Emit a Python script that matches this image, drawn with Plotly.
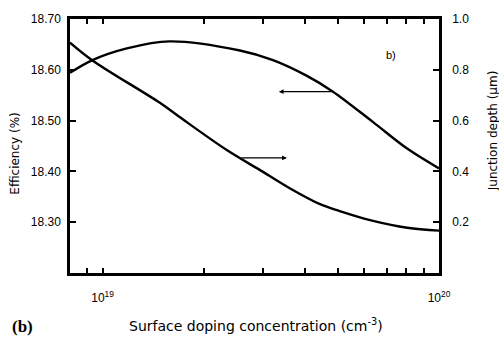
import plotly.graph_objects as go
import math

# Efficiency (%) vs surface doping concentration (cm^-3), left axis
eff_doping = [8.0e18, 9.33e18, 1.18e19, 1.58e19, 2.56e19, 3.21e19, 4.05e19, 4.84e19, 6.37e19, 8.04e19, 1.0e20]
eff_values = [18.594, 18.619, 18.642, 18.656, 18.638, 18.619, 18.588, 18.557, 18.497, 18.445, 18.406]

# Junction depth (um) vs surface doping concentration, right axis
jd_doping = [8.0e18, 9.33e18, 1.48e19, 1.69e19, 2.34e19, 2.99e19, 3.61e19, 4.43e19, 5.07e19, 6.37e19, 8.04e19, 1.0e20]
jd_values = [0.907, 0.837, 0.67, 0.615, 0.484, 0.399, 0.333, 0.271, 0.244, 0.205, 0.178, 0.167]

x_tickvals = [9e18, 1e19, 2e19, 3e19, 4e19, 5e19, 6e19, 7e19, 8e19, 9e19, 1e20]
x_ticktext = ["", "10<sup>19</sup>", "", "", "", "", "", "", "", "", "10<sup>20</sup>"]
left_ticks = [18.30, 18.40, 18.50, 18.60, 18.70]
left_text = ["18.30", "18.40", "18.50", "18.60", "18.70"]
right_ticks = [0.2, 0.4, 0.6, 0.8, 1.0]
right_text = ["0.2", "0.4", "0.6", "0.8", "1.0"]

FONT = "Liberation Sans"
TFONT = "DejaVu Sans"

fig = go.Figure()
fig.add_trace(go.Scatter(x=eff_doping, y=eff_values, mode="lines",
                         line=dict(color="black", width=2.4, shape="spline", smoothing=1.0),
                         yaxis="y", showlegend=False))
fig.add_trace(go.Scatter(x=jd_doping, y=jd_values, mode="lines",
                         line=dict(color="black", width=2.4, shape="spline", smoothing=1.0),
                         yaxis="y2", showlegend=False))

fig.update_layout(
    width=499, height=337,
    margin=dict(l=70, r=60, t=15, b=64),
    paper_bgcolor="white", plot_bgcolor="white",
    font=dict(family=FONT, size=12, color="black"),
    xaxis=dict(type="log", range=[math.log10(8e18), 20],
               tickvals=x_tickvals, ticktext=x_ticktext,
               ticks="inside", ticklen=5, tickwidth=1.5, tickcolor="black",
               showline=True, linecolor="black", linewidth=2.5, mirror="ticks",
               showgrid=False, zeroline=False, ticklabelstandoff=12,
               tickfont=dict(size=12, family=FONT)),
    yaxis=dict(range=[18.20, 18.70], tickvals=left_ticks, ticktext=left_text,
               ticks="inside", ticklen=6, tickwidth=1.5, tickcolor="black",
               showline=True, linecolor="black", linewidth=2.5,
               showgrid=False, zeroline=False, ticklabelstandoff=4,
               tickfont=dict(size=12, family=FONT)),
    yaxis2=dict(range=[0, 1.0], overlaying="y", side="right",
                tickvals=right_ticks, ticktext=right_text,
                ticks="inside", ticklen=6, tickwidth=1.5, tickcolor="black",
                showline=True, linecolor="black", linewidth=2.5,
                showgrid=False, zeroline=False, ticklabelstandoff=8,
                tickfont=dict(size=12, family=FONT)),
)

annotations = [
    dict(text="Efficiency (%)", xref="paper", yref="paper", x=-0.149, y=0.47,
         textangle=-90, showarrow=False, font=dict(size=12, family=TFONT),
         xanchor="center", yanchor="middle"),
    dict(text="Junction depth (μm)", xref="paper", yref="paper", x=1.145, y=0.56,
         textangle=-90, showarrow=False, font=dict(size=12, family=TFONT),
         xanchor="center", yanchor="middle"),
    dict(text="Surface doping concentration (cm<sup>-3</sup>)", xref="paper", yref="paper",
         x=0.505, y=-0.205, showarrow=False, font=dict(size=14, family=TFONT),
         xanchor="center", yanchor="middle"),
    dict(text="<b>(b)</b>", xref="paper", yref="paper", x=-0.13, y=-0.209,
         showarrow=False, font=dict(size=17, family="Liberation Serif"),
         xanchor="center", yanchor="middle"),
    dict(text="b)", xref="paper", yref="paper", x=0.87, y=0.86,
         showarrow=False, font=dict(size=11, family=FONT),
         xanchor="center", yanchor="middle"),
    # arrow pointing left (efficiency curve -> left axis)
    dict(x=math.log10(3.34e19), y=18.557, xref="x", yref="y",
         ax=math.log10(4.84e19), ay=18.557, axref="x", ayref="y",
         showarrow=True, arrowhead=2, arrowsize=0.8, arrowwidth=1.2, arrowcolor="black", text=""),
    # arrow pointing right (junction depth curve -> right axis)
    dict(x=math.log10(3.53e19), y=0.453, xref="x", yref="y2",
         ax=math.log10(2.56e19), ay=0.453, axref="x", ayref="y2",
         showarrow=True, arrowhead=2, arrowsize=0.8, arrowwidth=1.2, arrowcolor="black", text=""),
]
fig.update_layout(annotations=annotations)

fig.write_html("out.html")
